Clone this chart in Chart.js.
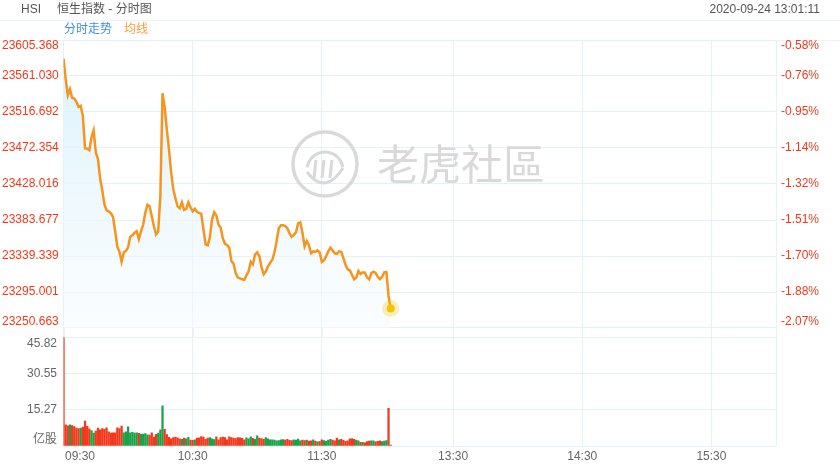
<!DOCTYPE html>
<html>
<head>
<meta charset="utf-8">
<script src="https://cdn.jsdelivr.net/npm/chart.js@4.4.1/dist/chart.umd.min.js"></script>
<style>
  html, body { margin: 0; padding: 0; background: #fff; }
  #wrap { position: relative; width: 840px; height: 470px; }
</style>
</head>
<body>
<div id="wrap"><canvas id="chart" width="840" height="470"></canvas></div>
<script>
// HSI intraday, 2020-09-24, one value per minute from 09:30
const prices = [
  23582.46, 23557.70, 23537.26, 23544.65, 23534.18, 23533.32, 23529.26, 23523.10, 23524.33, 23511.40,
  23471.99, 23471.62, 23469.52, 23485.54, 23494.16, 23467.06, 23459.06, 23435.04, 23420.26, 23403.02,
  23395.63, 23394.40, 23391.93, 23387.38, 23369.77, 23350.68, 23344.52, 23332.20, 23343.90, 23345.75,
  23350.06, 23362.99, 23364.84, 23367.92, 23369.77, 23359.91, 23369.77, 23377.77, 23392.55, 23402.40,
  23400.55, 23388.24, 23375.92, 23366.07, 23369.77, 23413.49, 23539.73, 23522.48, 23495.39, 23470.76,
  23442.43, 23421.49, 23410.41, 23400.55, 23398.09, 23405.48, 23396.24, 23397.48, 23405.48, 23399.32,
  23394.40, 23397.48, 23393.78, 23392.55, 23391.32, 23372.23, 23353.75, 23352.52, 23362.37, 23384.54,
  23393.41, 23389.47, 23377.77, 23374.32, 23361.14, 23354.37, 23352.52, 23349.44, 23333.19, 23329.74,
  23318.04, 23312.86, 23311.88, 23310.65, 23310.03, 23315.57, 23320.50, 23332.20, 23329.12, 23341.44,
  23343.90, 23338.97, 23325.43, 23316.81, 23320.50, 23326.66, 23330.97, 23334.66, 23343.90, 23357.45,
  23373.46, 23377.15, 23377.15, 23376.29, 23373.46, 23367.30, 23362.99, 23365.45, 23368.53, 23379.62,
  23380.85, 23367.92, 23351.29, 23357.82, 23352.52, 23342.67, 23345.13, 23344.52, 23346.37, 23343.90,
  23332.20, 23334.05, 23338.97, 23345.13, 23349.69, 23346.37, 23342.67, 23342.05, 23345.13, 23344.52,
  23337.13, 23328.51, 23322.96, 23321.73, 23316.19, 23310.65, 23312.50, 23320.87, 23317.18, 23319.27,
  23318.90, 23313.11, 23310.65, 23318.41, 23320.13, 23318.65, 23313.73, 23310.89, 23313.73, 23319.27,
  23319.64, 23290.10, 23274.57
];

// volume per minute, 亿股
const volumes = [
  45.82, 8.9, 8.5, 8.9, 8.6, 8.2, 7.6, 7.4, 7.6, 8.0,
  10.5, 8.3, 7.2, 6.5, 5.5, 6.3, 7.6, 6.8, 7.3, 7.0,
  7.7, 6.0, 5.5, 5.6, 5.6, 7.7, 7.4, 8.4, 5.6, 6.0,
  8.1, 5.6, 5.8, 5.5, 5.6, 5.3, 5.0, 5.0, 5.2, 4.7,
  4.6, 5.6, 3.8, 4.9, 5.4, 6.8, 16.9, 7.0, 4.8, 3.7,
  3.0, 3.5, 3.8, 3.4, 3.0, 2.8, 3.3, 3.0, 3.7, 2.5,
  2.4, 2.6, 3.3, 3.4, 4.0, 3.8, 2.8, 3.3, 3.6, 3.0,
  2.7, 3.9, 2.6, 3.5, 3.8, 3.5, 2.6, 3.9, 3.6, 3.3,
  3.1, 3.6, 3.4, 3.2, 2.6, 3.4, 3.0, 3.9, 3.2, 2.8,
  4.3, 3.3, 3.1, 2.8, 3.5, 3.0, 2.6, 2.6, 2.5, 2.2,
  2.3, 2.6, 2.7, 2.5, 2.8, 2.4, 2.3, 2.6, 2.5, 2.9,
  2.2, 2.5, 2.3, 2.5, 2.1, 2.2, 2.6, 2.1, 1.8, 1.9,
  2.6, 2.3, 2.0, 2.5, 2.8, 2.5, 2.2, 3.3, 2.6, 2.8,
  2.4, 2.0, 2.2, 3.0, 3.1, 2.8, 2.5, 2.2, 1.6, 1.5,
  1.3, 1.9, 2.1, 2.2, 2.2, 1.8, 2.0, 2.2, 1.9, 2.1,
  2.3, 15.9, 0.4
];

const prevClose = 23742.0;
const priceTicks = [23605.368, 23561.030, 23516.692, 23472.354, 23428.016, 23383.677, 23339.339, 23295.001, 23250.663];
const pctLabels = ["-0.58%", "-0.76%", "-0.95%", "-1.14%", "-1.32%", "-1.51%", "-1.70%", "-1.88%", "-2.07%"];
const volTicks = [45.82, 30.55, 15.27, 0];
const volLabels = ["45.82", "30.55", "15.27", "亿股"];
// minute slots: 09:30-12:00 then 13:00-16:00
const timeTicks = [0, 60, 120, 181, 241, 301];
const timeLabels = ["09:30", "10:30", "11:30", "13:30", "14:30", "15:30"];
const lastSlot = 331;

// layout of the two panes inside one chart area
const PRICE_H = 288;
const AREA_H = 406;
const VOL_H = 108.6;

const hi = priceTicks[0];
const lo = priceTicks[priceTicks.length - 1];
const priceMin = lo - (AREA_H - PRICE_H) / PRICE_H * (hi - lo);
const volMax = volTicks[0] * AREA_H / VOL_H;

const GRID = '#e7f1f8';
const RED = '#f2391c';
const GREEN = '#1ba249';
const FONT = '12px "Liberation Sans", Arial, "Noto Sans CJK SC", sans-serif';

const lineData = prices.map((v, i) => ({ x: i, y: v }));
const volData = volumes.map((v, i) => ({ x: i, y: v }));
const volColors = prices.map((v, i) => {
  const prev = i === 0 ? prevClose : prices[i - 1];
  return v >= prev ? GREEN : RED;
});
const lastIdx = prices.length - 1;

const fixedTicks = (vals) => (scale) => { scale.ticks = vals.map(v => ({ value: v })); };

const decorPlugin = {
  id: 'decor',
  beforeDatasetsDraw(chart) {
    // watermark
    const c = chart.ctx;
    c.save();
    c.strokeStyle = '#d9d9d9';
    c.fillStyle = '#d9d9d9';
    c.lineWidth = 3.5;
    c.beginPath();
    c.arc(325, 164, 32, 0, Math.PI * 2);
    c.stroke();
    c.lineWidth = 3;
    c.beginPath();
    c.arc(325, 170, 18, Math.PI * 1.05, Math.PI * 1.95);
    c.stroke();
    c.beginPath();
    c.moveTo(307, 172);
    c.quadraticCurveTo(325, 196, 343, 168);
    c.stroke();
    for (let k = 0; k < 3; k++) {
      c.beginPath();
      c.moveTo(316 + k * 8, 160);
      c.lineTo(314 + k * 8, 178);
      c.stroke();
    }
    c.font = '42px "Noto Sans CJK SC", sans-serif';
    c.textBaseline = 'middle';
    c.textAlign = 'left';
    c.fillText('老虎社區', 377, 164);
    c.restore();
  },
  afterDraw(chart) {
    const c = chart.ctx;
    const a = chart.chartArea;
    const yP = chart.scales.yPrice;
    const yV = chart.scales.yVol;
    const x = chart.scales.x;
    c.save();
    // header band
    c.strokeStyle = '#eaf3fa';
    c.lineWidth = 1;
    c.beginPath();
    c.moveTo(0, 20.5); c.lineTo(840, 20.5);
    c.moveTo(0, 40.5); c.lineTo(a.left, 40.5);
    c.moveTo(a.right, 40.5); c.lineTo(840, 40.5);
    c.stroke();
    // gap between panes
    c.strokeStyle = GRID;
    c.beginPath();
    const gapTop = yP.getPixelForValue(lo), gapBot = yV.getPixelForValue(volTicks[0]);
    [0, ...timeTicks.slice(1), lastSlot].forEach(t => {
      const px = Math.round(x.getPixelForValue(t)) + 0.5;
      c.moveTo(px, gapTop); c.lineTo(px, gapBot);
    });
    c.stroke();

    c.font = FONT;
    c.textBaseline = 'middle';
    c.fillStyle = '#555';
    c.textAlign = 'left';
    c.fillText('HSI', 21, 10);
    c.fillText('恒生指数 - 分时图', 57, 10);
    c.textAlign = 'right';
    c.fillText('2020-09-24 13:01:11', 820, 10);
    c.textAlign = 'left';
    c.fillStyle = '#3d8ee8';
    c.fillText('分时走势', 64, 30);
    c.fillStyle = '#f7a03c';
    c.fillText('均线', 124, 30);

    // price and percent labels
    priceTicks.forEach((v, i) => {
      let py = yP.getPixelForValue(v);
      if (i === 0) py += 6;
      if (i === priceTicks.length - 1) py -= 6;
      c.fillStyle = RED;
      c.textAlign = 'left';
      c.fillText(v.toFixed(3), 2, py);
      c.fillText(pctLabels[i], 781, py);
    });
    // volume labels
    c.fillStyle = '#666';
    c.textAlign = 'right';
    volTicks.forEach((v, i) => {
      let py = yV.getPixelForValue(v);
      if (i === 0) py += 6;
      if (i === volTicks.length - 1) py -= 6;
      c.fillText(volLabels[i], 57, py);
    });
    // time labels
    timeTicks.forEach((t, i) => {
      const px = x.getPixelForValue(t);
      if (i === 0) { c.textAlign = 'left'; c.fillText(timeLabels[i], px + 1.5, 457); }
      else { c.textAlign = 'center'; c.fillText(timeLabels[i], px, 457); }
    });
    c.restore();
  }
};

new Chart(document.getElementById('chart'), {
  type: 'line',
  data: {
    datasets: [
      {
        type: 'scatter',
        label: 'halo',
        data: [lineData[lastIdx]],
        yAxisID: 'yPrice',
        pointRadius: 8.5,
        pointBackgroundColor: 'rgba(246, 200, 20, 0.3)',
        pointBorderWidth: 0,
        order: 0
      },
      {
        type: 'scatter',
        label: 'last',
        data: [lineData[lastIdx]],
        yAxisID: 'yPrice',
        pointRadius: 4,
        pointBackgroundColor: '#f6c000',
        pointBorderWidth: 0,
        order: 0
      },
      {
        type: 'line',
        label: '分时走势',
        data: lineData,
        yAxisID: 'yPrice',
        borderColor: '#f7941d',
        borderWidth: 2.5,
        pointRadius: 0,
        tension: 0,
        fill: { value: lo },
        backgroundColor: (ctx) => {
          const a = ctx.chart.chartArea;
          if (!a) return 'rgba(225,243,252,0.6)';
          const g = ctx.chart.ctx.createLinearGradient(0, a.top, 0, a.top + PRICE_H);
          g.addColorStop(0, 'rgba(212, 239, 252, 0.9)');
          g.addColorStop(1, 'rgba(246, 251, 254, 0.5)');
          return g;
        },
        order: 1
      },
      {
        type: 'bar',
        label: '成交量',
        data: volData,
        yAxisID: 'yVol',
        backgroundColor: volColors,
        barThickness: 1.6,
        order: 2
      }
    ]
  },
  options: {
    responsive: false,
    animation: false,
    devicePixelRatio: 1,
    layout: { padding: { top: 40, bottom: 24, left: 0, right: 0 } },
    plugins: { legend: { display: false }, tooltip: { enabled: false } },
    scales: {
      x: {
        type: 'linear',
        min: 0,
        max: lastSlot,
        offset: false,
        afterBuildTicks: fixedTicks([0, ...timeTicks.slice(1), lastSlot]),
        afterFit: (s) => { s.height = 0; },
        ticks: { display: false },
        grid: { color: GRID, drawTicks: false, offset: false },
        border: { display: false }
      },
      yPrice: {
        type: 'linear',
        position: 'left',
        min: priceMin,
        max: hi,
        afterBuildTicks: fixedTicks(priceTicks),
        afterFit: (s) => { s.width = 63.5; },
        ticks: { display: false },
        grid: { color: GRID, drawTicks: false },
        border: { display: false }
      },
      yVol: {
        type: 'linear',
        position: 'left',
        min: 0,
        max: volMax,
        afterBuildTicks: fixedTicks(volTicks),
        afterFit: (s) => { s.width = 0; },
        ticks: { display: false },
        grid: { color: GRID, drawTicks: false },
        border: { display: false }
      },
      yPct: {
        type: 'linear',
        position: 'right',
        min: (priceMin - prevClose) / prevClose * 100,
        max: (hi - prevClose) / prevClose * 100,
        afterFit: (s) => { s.width = 64; },
        ticks: { display: false },
        grid: { display: false },
        border: { display: false }
      }
    }
  },
  plugins: [decorPlugin]
});
</script>
</body>
</html>
